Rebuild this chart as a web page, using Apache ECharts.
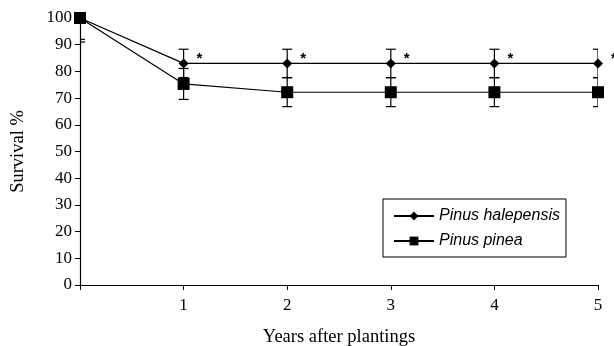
<!DOCTYPE html>
<html>
<head>
<meta charset="utf-8">
<script src="https://cdn.jsdelivr.net/npm/echarts@6/dist/echarts.min.js"></script>
<style>
  html, body { margin: 0; padding: 0; background: #fff; }
  #chart { width: 614px; height: 346px; }
</style>
</head>
<body>
<div id="chart"></div>
<script>
// years after planting
const years = [0, 1, 2, 3, 4, 5];
// survival % and error (±)
const halepensis = [100, 83, 83, 83, 83, 83];
const halepensisErr = [8, 5.3, 5.3, 5.3, 5.3, 5.3];
const pinea = [100, 75.3, 72.2, 72.2, 72.2, 72.2];
const pineaErr = [9, 5.8, 5.4, 5.4, 5.4, 5.4];

const serif = 'Liberation Serif';
const sans = 'Liberation Sans';

// 误差线数据 [x, 下限, 上限]
function errData(vals, errs) {
  return vals.map((v, i) => [years[i], v - errs[i], v + errs[i]]);
}

function renderErr(params, api) {
  const x = api.value(0);
  const lo = api.coord([x, api.value(1)]);
  const hi = api.coord([x, api.value(2)]);
  const w = 5;
  const style = {stroke: '#000', lineWidth: 1.2};
  return {
    type: 'group',
    children: [
      {type: 'line', shape: {x1: lo[0], y1: lo[1], x2: hi[0], y2: hi[1]}, style},
      {type: 'line', shape: {x1: lo[0] - w, y1: lo[1], x2: lo[0] + w, y2: lo[1]}, style},
      {type: 'line', shape: {x1: hi[0] - w, y1: hi[1], x2: hi[0] + w, y2: hi[1]}, style}
    ]
  };
}

const chart = echarts.init(document.getElementById('chart'));
chart.setOption({
  animation: false,
  grid: {left: 80, right: 16, top: 18, bottom: 61, outerBoundsMode: 'none', containLabel: false},
  xAxis: {
    type: 'value',
    min: 0, max: 5, interval: 1,
    name: 'Years after plantings',
    nameLocation: 'middle',
    nameGap: 43,
    nameTextStyle: {fontFamily: serif, fontSize: 18.5, color: '#000'},
    axisLine: {lineStyle: {color: '#000', width: 1.2}},
    axisTick: {lineStyle: {color: '#000'}, length: 5},
    axisLabel: {
      fontFamily: serif, fontSize: 17, color: '#000', margin: 12,
      formatter: v => v === 0 ? '' : v
    },
    splitLine: {show: false}
  },
  yAxis: {
    type: 'value',
    min: 0, max: 100, interval: 10,
    name: 'Survival %',
    nameLocation: 'middle',
    nameGap: 52,
    nameTextStyle: {fontFamily: serif, fontSize: 18.5, color: '#000'},
    axisLine: {show: true, lineStyle: {color: '#000', width: 1.2}},
    axisTick: {show: true, lineStyle: {color: '#000'}, length: 5},
    axisLabel: {fontFamily: serif, fontSize: 17, color: '#000', margin: 8},
    splitLine: {show: false}
  },
  legend: {
    orient: 'vertical',
    left: 383, top: 199,
    padding: [9, 6, 8, 10],
    borderColor: '#000',
    borderWidth: 1,
    itemWidth: 40,
    itemHeight: 11,
    itemGap: 9,
    textStyle: {fontFamily: sans, fontStyle: 'italic', fontSize: 16, color: '#000'},
    data: ['Pinus halepensis', 'Pinus pinea']
  },
  series: [
    {
      type: 'custom',
      renderItem: renderErr,
      data: errData(halepensis, halepensisErr),
      encode: {x: 0, y: [1, 2]},
      clip: true,
      z: 1,
      silent: true
    },
    {
      type: 'custom',
      renderItem: renderErr,
      data: errData(pinea, pineaErr),
      encode: {x: 0, y: [1, 2]},
      clip: true,
      z: 1,
      silent: true
    },
    {
      name: 'Pinus halepensis',
      type: 'line',
      data: years.map((x, i) => [x, halepensis[i]]),
      symbol: 'diamond',
      symbolSize: 10,
      itemStyle: {color: '#000'},
      lineStyle: {color: '#000', width: 1.2},
      z: 3,
      label: {
        show: true,
        position: 'right',
        offset: [3, -5],
        fontFamily: sans,
        fontSize: 15,
        fontWeight: 'bold',
        color: '#000',
        formatter: p => p.dataIndex > 0 ? '*' : ''
      }
    },
    {
      name: 'Pinus pinea',
      type: 'line',
      data: years.map((x, i) => [x, pinea[i]]),
      symbol: 'rect',
      symbolSize: 12,
      itemStyle: {color: '#000'},
      lineStyle: {color: '#000', width: 1.2},
      z: 3
    }
  ]
});
</script>
</body>
</html>
